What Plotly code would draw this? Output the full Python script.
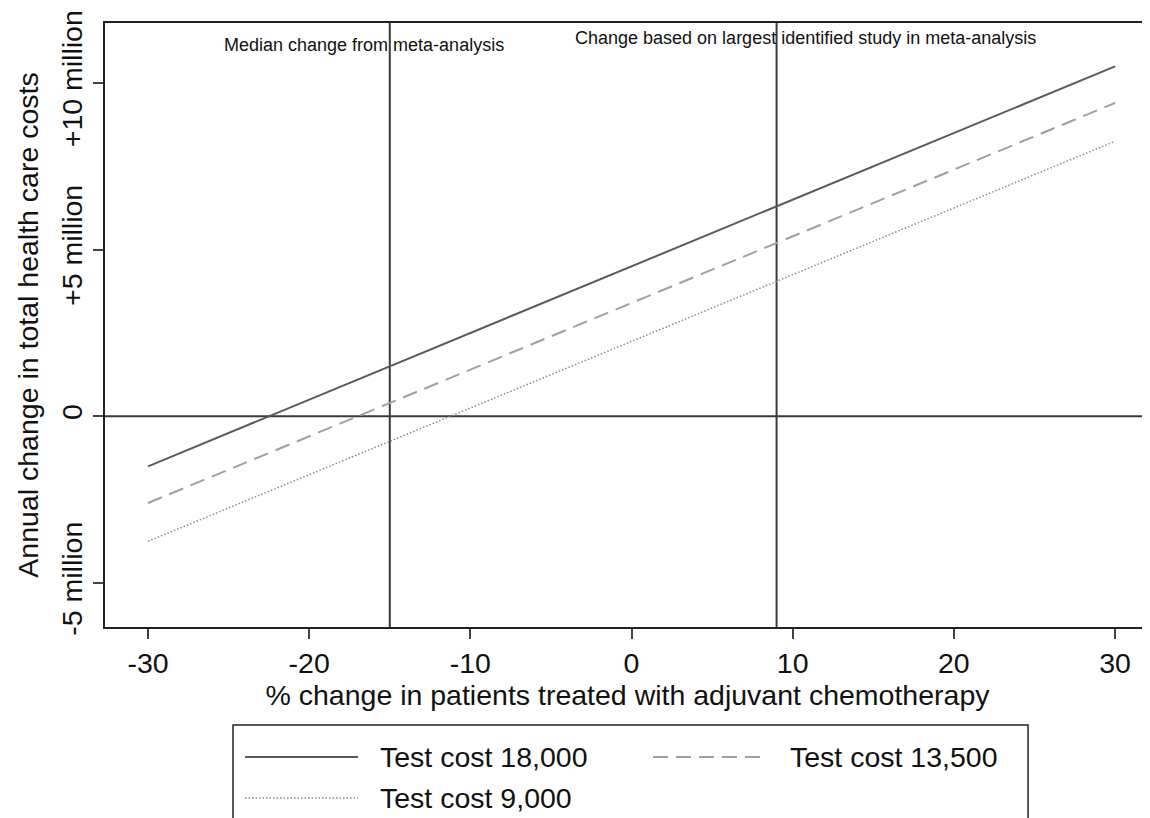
import plotly.graph_objects as go

pct_change = [-30, -20, -10, 0, 10, 20, 30]
cost_18000 = [-1.5e6, 0.5e6, 2.5e6, 4.5e6, 6.5e6, 8.5e6, 10.5e6]
cost_13500 = [-2.6e6, -0.6e6, 1.4e6, 3.4e6, 5.4e6, 7.4e6, 9.4e6]
cost_9000 = [-3.75e6, -1.75e6, 0.25e6, 2.25e6, 4.25e6, 6.25e6, 8.25e6]
series_names = ["Test cost 18,000", "Test cost 13,500", "Test cost 9,000"]
ref_lines = [-15, 9]
ref_labels = ["Median change from meta-analysis",
              "Change based on largest identified study in meta-analysis"]
y_tickvals = [-5e6, 0, 5e6, 10e6]
y_ticktext = ["-5 million", "0", "+5 million", "+10 million"]
x_tickvals = [-30, -20, -10, 0, 10, 20, 30]
x_ticktext = ["-30", "-20", "-10", "0", "10", "20", "30"]
x_title = "% change in patients treated with adjuvant chemotherapy"
y_title = "Annual change in total health care costs"

FONT = "Liberation Sans, Arial, Helvetica, sans-serif"
FS = 28.5

styles = [
    dict(color="#5a5a5a", width=2, dash="solid"),
    dict(color="#a0a0a0", width=2, dash="15px,8px"),
    dict(color="#8a8a8a", width=1.5, dash="1.5px,2px"),
]

fig = go.Figure()
for name, ys, st in zip(series_names, [cost_18000, cost_13500, cost_9000], styles):
    fig.add_trace(go.Scatter(x=pct_change, y=ys, mode="lines", name=name, line=st,
                             showlegend=False))

for xv in ref_lines:
    fig.add_vline(x=xv, line=dict(color="#3a3a3a", width=2), layer="below")
fig.add_hline(y=0, line=dict(color="#3a3a3a", width=2), layer="below")

fig.add_annotation(x=ref_lines[0] - 1.6, y=1, yref="paper", yshift=-22, text=ref_labels[0],
                   showarrow=False, xanchor="center", yanchor="middle",
                   font=dict(size=18, color="#111", family=FONT))
fig.add_annotation(x=ref_lines[1] + 1.8, y=1, yref="paper", yshift=-15, text=ref_labels[1],
                   showarrow=False, xanchor="center", yanchor="middle",
                   font=dict(size=18, color="#111", family=FONT))

# y-axis title
fig.add_annotation(xref="paper", yref="paper", x=-0.074, y=0.5, text=y_title, textangle=-90,
                   showarrow=False, xanchor="center", yanchor="middle",
                   font=dict(size=FS, color="#111", family=FONT))

# Legend (drawn as a boxed key beneath the axis)
fig.add_shape(type="rect", xref="paper", yref="paper", x0=0.1225, x1=0.8833,
              y0=-0.34, y1=-0.1623, line=dict(color="#222", width=1.5),
              fillcolor="white", layer="above")
leg_pos = [(0.134, 0.2421, 0.2612, -0.2152),
           (0.5244, 0.6335, 0.6536, -0.2152),
           (0.134, 0.2421, 0.2612, -0.2831)]
for name, st, (sx0, sx1, tx, ty) in zip(series_names, styles, leg_pos):
    fig.add_shape(type="line", xref="paper", yref="paper", x0=sx0, x1=sx1, y0=ty, y1=ty,
                  line=st, layer="above")
    fig.add_annotation(xref="paper", yref="paper", x=tx, y=ty, text=name, showarrow=False,
                       xanchor="left", yanchor="middle", font=dict(size=FS, family=FONT, color="#111"))

fig.update_layout(
    width=1142, height=810,
    margin=dict(l=97, r=0, t=15, b=191),
    paper_bgcolor="white", plot_bgcolor="white",
    font=dict(family=FONT, size=FS, color="#111"),
    showlegend=False,
    xaxis=dict(range=[-32.67, 32.17], tickvals=x_tickvals, ticktext=x_ticktext,
               showgrid=False, zeroline=False, automargin=False,
               showline=True, linecolor="#222", linewidth=2, mirror=True,
               ticks="outside", ticklen=10, tickwidth=1.5, tickcolor="#444",
               tickfont=dict(size=FS),
               title=dict(text=x_title, font=dict(size=FS), standoff=0)),
    yaxis=dict(range=[-6.32e6, 11.8e6], tickvals=y_tickvals, ticktext=y_ticktext,
               tickangle=-90, showgrid=False, zeroline=False, automargin=False,
               showline=True, linecolor="#222", linewidth=2, mirror=False,
               ticks="outside", ticklen=10, tickwidth=1.5, tickcolor="#444",
               tickfont=dict(size=FS)),
)

fig.write_html("out.html")
